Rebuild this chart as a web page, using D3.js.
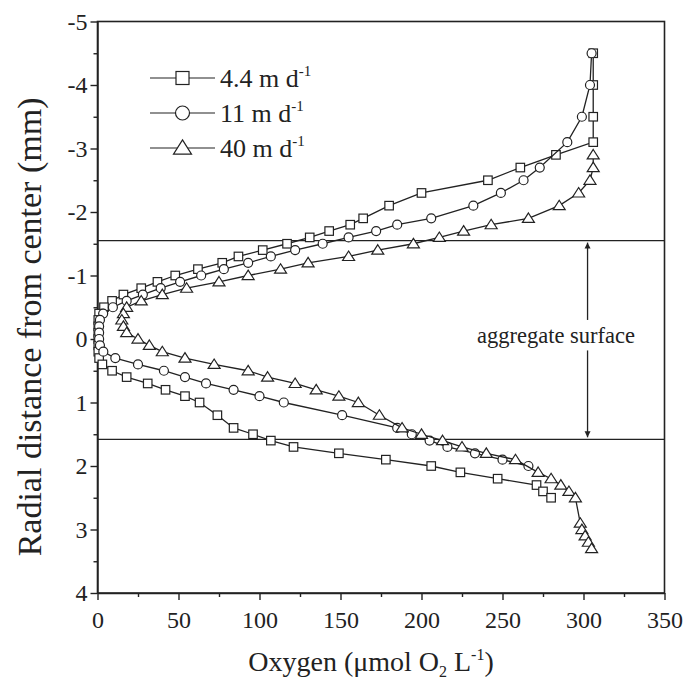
<!DOCTYPE html>
<meta charset="utf-8">
<style>
body { margin: 0; background: #fff; }
text { font-family: "Liberation Serif", "Times New Roman", serif; fill: #222; }
.frame { fill: none; stroke: #222; stroke-width: 1.6px; }
.axis path, .axis line { stroke: #222; stroke-width: 1.4px; }
.axis text { font-size: 24px; font-family: "Liberation Serif", serif; fill: #222; }
.series { fill: none; stroke: #222; stroke-width: 1.3px; }
.mark { fill: #fff; stroke: #222; stroke-width: 1.2px; }
</style>
<body>
<svg width="686" height="683"></svg>
<script src="https://d3js.org/d3.v7.min.js"></script>
<script>
// 4.4 m d-1 (squares)
var depth44 = [-4.5,-4.0,-3.5,-3.1,-2.9,-2.7,-2.5,-2.3,-2.1,-1.9,-1.8,-1.7,-1.6,-1.5,-1.4,-1.3,-1.2,-1.1,-1.0,
  -0.9,-0.8,-0.7,-0.6,-0.5,-0.4,-0.3,-0.2,-0.1,0.0,0.1,0.2,0.3,0.4,0.5,0.6,0.7,0.8,0.9,1.0,
  1.2,1.4,1.5,1.6,1.7,1.8,1.9,2.0,2.1,2.2,2.3,2.4,2.5];
var oxy44 = [306,306,306,306,283,261,241,200,180,164,156,143,131,117,102,87,77,62,48,
  37,27,16,9,4,1,0.5,0.5,0.5,0.5,0.5,0.5,1,3,9,18,31,42,54,63,
  74,84,96,107,121,149,178,206,224,247,271,275,280];

// 11 m d-1 (circles)
var depth11 = [-4.5,-4.0,-3.5,-3.1,-2.7,-2.5,-2.3,-2.1,-1.9,-1.8,-1.7,-1.6,-1.5,-1.4,-1.3,-1.2,-1.1,-1.0,
  -0.9,-0.8,-0.7,-0.6,-0.5,-0.4,-0.3,-0.2,-0.1,0.0,0.1,0.2,0.3,0.4,0.5,0.6,0.7,0.8,0.9,1.0,
  1.2,1.4,1.5,1.6,1.7,1.8,1.9,2.0];
var oxy11 = [305,304,299,290,273,263,249,232,206,185,172,155,139,122,107,93,78,64,
  51,39,28,18,9.5,3.5,1.5,1,1,1,1.5,3.6,11,25,41,54,67,84,100,115,
  151,185,194,205,216,233,250,266];

// 40 m d-1 (triangles)
var depth40 = [-2.9,-2.7,-2.5,-2.3,-2.1,-1.9,-1.8,-1.7,-1.6,-1.5,-1.4,-1.3,-1.2,-1.1,-1.0,
  -0.9,-0.8,-0.7,-0.6,-0.5,-0.4,-0.3,-0.2,-0.1,0.0,0.1,0.2,0.3,0.4,0.5,0.6,0.7,0.8,0.9,1.0,
  1.2,1.4,1.5,1.6,1.7,1.8,1.9,2.1,2.2,2.3,2.4,2.5,2.9,3.0,3.1,3.2,3.3];
var oxy40 = [306,306,304,297,285,266,243,226,211,195,173,155,130,113,93,
  75,55,40,27,18,16,15,16,18,25,32,40,54,72,93,105,122,135,149,161,
  174,188,200,213,225,240,258,272,280,286,291,295,298,299,301,303,305];

var legendLabels = ["4.4 m d", "11 m d", "40 m d"];
var xTicks = [0, 50, 100, 150, 200, 250, 300, 350];
var yTicks = [-5, -4, -3, -2, -1, 0, 1, 2, 3, 4];
var surfaceDepths = [-1.55, 1.58];

var svg = d3.select("svg"),
    margin = {left: 97.5, right: 21.5, top: 21.5, bottom: 90},
    width = 686 - margin.left - margin.right,
    height = 683 - margin.top - margin.bottom;

var x = d3.scaleLinear().domain([0, 350]).range([margin.left, margin.left + width]);
var y = d3.scaleLinear().domain([-5, 4]).range([margin.top, margin.top + height]);

var g = svg.append("g");

// minor ticks
g.append("g").attr("class", "axis")
  .attr("transform", "translate(0," + y(4) + ")")
  .call(d3.axisBottom(x).tickValues(d3.range(25, 350, 50)).tickSize(4).tickFormat(""))
  .select(".domain").remove();
g.append("g").attr("class", "axis")
  .attr("transform", "translate(" + x(0) + ",0)")
  .call(d3.axisLeft(y).tickValues(d3.range(-4.5, 4, 1)).tickSize(4).tickFormat(""))
  .select(".domain").remove();

// major axes
var xAxis = g.append("g").attr("class", "axis")
  .attr("transform", "translate(0," + y(4) + ")")
  .call(d3.axisBottom(x).tickValues(xTicks).tickSize(7).tickPadding(9).tickSizeOuter(0));
xAxis.selectAll("text").attr("dy", "0.8em");

var yAxis = g.append("g").attr("class", "axis")
  .attr("transform", "translate(" + x(0) + ",0)")
  .call(d3.axisLeft(y).tickValues(yTicks).tickSize(7).tickPadding(3).tickSizeOuter(0)
    .tickFormat(function(d) { return d; }));

// frame
g.append("rect").attr("class", "frame")
  .attr("x", x(0)).attr("y", y(-5))
  .attr("width", x(350) - x(0)).attr("height", y(4) - y(-5));

// aggregate surface lines
g.selectAll(".surface").data(surfaceDepths).enter().append("line")
  .attr("class", "surface")
  .attr("x1", x(0)).attr("x2", x(350))
  .attr("y1", function(d) { return y(d); }).attr("y2", function(d) { return y(d); })
  .attr("stroke", "#222").attr("stroke-width", 1.3);

// arrows
var defs = svg.append("defs");
defs.append("marker").attr("id", "arr")
  .attr("viewBox", "0 0 10 10").attr("refX", 10).attr("refY", 5)
  .attr("markerWidth", 6).attr("markerHeight", 7).attr("orient", "auto")
  .attr("markerUnits", "userSpaceOnUse")
  .append("path").attr("d", "M0,0L10,5L0,10z").attr("fill", "#222");

var ax = x(302.5);
g.append("line").attr("x1", ax).attr("x2", ax)
  .attr("y1", y(-0.3)).attr("y2", y(surfaceDepths[0]) + 2)
  .attr("stroke", "#222").attr("stroke-width", 1.3).attr("marker-end", "url(#arr)");
g.append("line").attr("x1", ax).attr("x2", ax)
  .attr("y1", y(0.18)).attr("y2", y(surfaceDepths[1]) - 2)
  .attr("stroke", "#222").attr("stroke-width", 1.3).attr("marker-end", "url(#arr)");
g.append("text").attr("x", x(283)).attr("y", y(0.06))
  .attr("text-anchor", "middle").style("font-size", "22.5px")
  .text("aggregate surface");

// series
var series = [
  {depth: depth44, oxy: oxy44, shape: "square"},
  {depth: depth11, oxy: oxy11, shape: "circle"},
  {depth: depth40, oxy: oxy40, shape: "triangle"}
];

var line = d3.line()
  .x(function(d) { return x(d[0]); })
  .y(function(d) { return y(d[1]); });

function drawMark(sel, shape, s) {
  if (shape === "square") {
    sel.append("rect").attr("class", "mark")
      .attr("x", -s / 2).attr("y", -s / 2).attr("width", s).attr("height", s);
  } else if (shape === "circle") {
    sel.append("circle").attr("class", "mark").attr("r", s / 2);
  } else {
    var h = s * 0.9;
    sel.append("path").attr("class", "mark")
      .attr("d", "M0," + (-h * 0.6) + "L" + (s * 0.6) + "," + (h * 0.45) + "L" + (-s * 0.6) + "," + (h * 0.45) + "Z");
  }
}

series.forEach(function(s) {
  var pts = s.oxy.map(function(o, i) { return [o, s.depth[i]]; });
  g.append("path").attr("class", "series").attr("d", line(pts));
  var m = g.append("g").selectAll("g").data(pts).enter().append("g")
    .attr("transform", function(d) { return "translate(" + x(d[0]) + "," + y(d[1]) + ")"; });
  drawMark(m, s.shape, s.shape === "circle" ? 9 : (s.shape === "square" ? 8.5 : 10));
});

// legend
var leg = g.append("g").attr("transform", "translate(150,78)");
series.forEach(function(s, i) {
  var row = leg.append("g").attr("transform", "translate(0," + (i * 35) + ")");
  row.append("line").attr("x1", 0).attr("x2", 65).attr("y1", 0).attr("y2", 0)
    .attr("stroke", "#222").attr("stroke-width", 1.2);
  var mk = row.append("g").attr("transform", "translate(32.5,0)");
  drawMark(mk, s.shape, s.shape === "circle" ? 14 : (s.shape === "square" ? 13 : 15));
  var t = row.append("text").attr("x", 70).attr("y", 9).style("font-size", "26px");
  t.append("tspan").text(legendLabels[i]);
  t.append("tspan").attr("dy", -11).style("font-size", "15px").text("-1");
});

// axis titles
var xt = g.append("text").attr("x", 371).attr("y", 671)
  .attr("text-anchor", "middle").style("font-size", "28px");
xt.append("tspan").text("Oxygen (\u03bcmol O");
xt.append("tspan").attr("dy", 6).style("font-size", "16px").text("2");
xt.append("tspan").attr("dy", -6).text(" L");
xt.append("tspan").attr("dy", -11).style("font-size", "16px").text("-1");
xt.append("tspan").attr("dy", 11).text(")");

g.append("text")
  .attr("transform", "translate(41," + y(-0.19) + ") rotate(-90)")
  .attr("text-anchor", "middle").style("font-size", "34px")
  .text("Radial distance from center (mm)");
</script>
</body>
